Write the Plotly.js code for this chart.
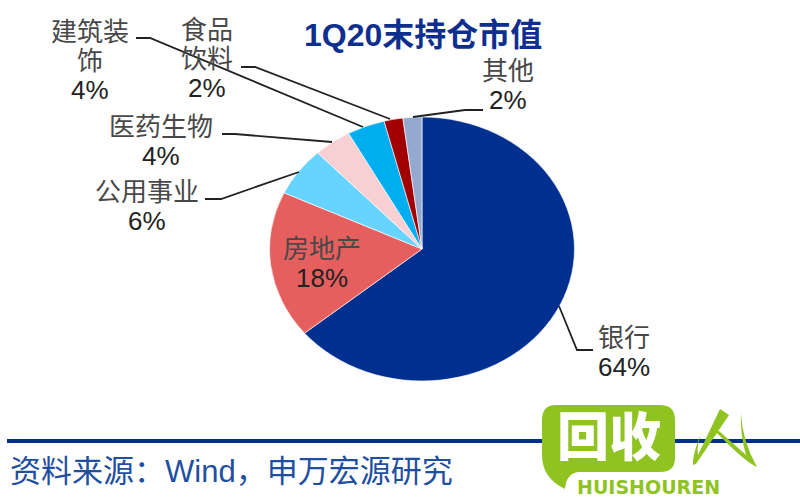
<!DOCTYPE html>
<html><head><meta charset="utf-8">
<script src="https://cdn.plot.ly/plotly-3.0.1.min.js"></script>
<style>html,body{margin:0;padding:0;background:#fff}#chart{width:800px;height:500px}</style>
</head><body><div id="chart"></div>
<script>
const categories = ['银行','房地产','公用事业','医药生物','建筑装饰','食品饮料','其他'];
const shares = [64,18,6,4,4,2,2];
const sliceColors = ['#00308f','#e65f5f','#66d4ff','#f8d0d4','#00aeef','#a00000','#94a9cf'];
const titleText = '1Q20末持仓市值';
const sourceText = '资料来源\uFF1AWind\uFF0C申万宏源研究';
const labelLines = [['银行','64%'],['房地产','18%'],['公用事业','6%'],['医药生物','4%'],['建筑装','饰','4%'],['食品','饮料','2%'],['其他','2%']];
const labelCentersX = [624,322,147,161,90,207,508];
const labelTopsY = [338,249,192,127,32,30,71];

const W=800,H=500;
const px=x=>x/W, py=y=>1-y/H;
const CJK='"Liberation Sans","Noto Sans CJK SC",sans-serif';
function ann(text,x,y,size,color,extra){
  return Object.assign({text,x:px(x),y:py(y),xref:'paper',yref:'paper',showarrow:false,xanchor:'center',yanchor:'middle',
    font:{family:CJK,size,color},align:'center'},extra||{});
}
function poly(points,color,width){
  const d=points.map((p,i)=>(i?'L':'M')+px(p[0])+','+py(p[1])).join(' ');
  return {type:'path',xref:'paper',yref:'paper',path:d,line:{color,width:width||1.8},layer:'above'};
}
function fillPath(d,color){
  const s=d.replace(/(-?[\d.]+),(-?[\d.]+)/g,(m,a,b)=>px(+a)+','+py(+b));
  return {type:'path',xref:'paper',yref:'paper',path:s,fillcolor:color,line:{width:0},layer:'above'};
}
const ink='#222222', soft='#484848', green='#8fc31f';
const shapes=[
  poly([[136,38],[150,38],[363,127]],ink),
  poly([[241,67],[255,67],[390,119]],ink),
  poly([[222,134],[235,134],[332,142]],ink),
  poly([[205,199],[221,199],[299,172]],ink),
  poly([[483,110],[465,110],[413,117]],ink),
  poly([[559,306],[577,350],[593,350]],ink),
  poly([[7,441],[800,441]],'#00308f',4),
  fillPath('M556,405 L660,405 Q675,405 675,420 L675,458 Q675,472 660,472 L578,472 Q566,474 565,489 Q542,478 542,455 L542,420 Q542,405 556,405 Z',green),
  fillPath('M720,409 L729,415 L696,464 L693,465 Q692,455 703,428 Q696,445 698,455 Z',green),
  fillPath('M741,413 Q742,440 757,467 Q745,462 716,432 L719,431 L746,455 Q740,435 741,413 Z',green)
];
const lineLabels=[];
labelLines.forEach((lines,i)=>lines.forEach((t,j)=>{
  const isPct=t.includes('%');
  lineLabels.push(ann(t,labelCentersX[i],labelTopsY[i]+j*29,26,isPct?ink:soft));
}));
const annotations=[
  ann(titleText,423,35,32,'#0f2f8f',{font:{family:CJK,size:32,color:'#0f2f8f',weight:700}}),
  ...lineLabels,
  ann(sourceText,8,471,31,'#1f4fa0',{xanchor:'left'}),
  ann('回收',609,438,52,'#ffffff',{font:{family:CJK,size:52,color:'#ffffff',weight:900}}),
  ann('HUISHOUREN',648,487,19,green,{font:{family:'"DejaVu Sans",sans-serif',size:19,color:green,weight:700}})
];
const trace={type:'pie',labels:categories,values:shares,sort:false,direction:'clockwise',rotation:0,
  textinfo:'none',hoverinfo:'label+percent',
  marker:{colors:sliceColors,line:{color:'#ffffff',width:0.6}},
  domain:{x:[290/W,554/W],y:[1-381/H,1-117/H]}};
const layout={width:W,height:H,margin:{l:0,r:0,t:0,b:0},paper_bgcolor:'#fff',plot_bgcolor:'#fff',showlegend:false,shapes,annotations};
Plotly.newPlot('chart',[trace],layout,{displayModeBar:false,staticPlot:true}).then(()=>{
  // the reference pie is stretched horizontally into an ellipse
  const g=document.querySelector('.pielayer');
  if(g) g.setAttribute('transform','translate(422,249) scale(1.155,1) translate(-422,-249)');
});
</script></body></html>
